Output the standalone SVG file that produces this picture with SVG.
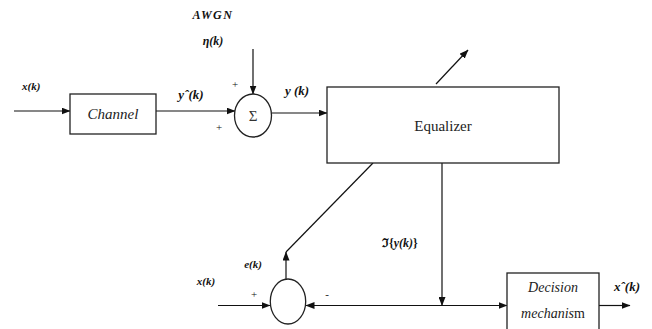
<svg xmlns="http://www.w3.org/2000/svg" width="652" height="329" viewBox="0 0 652 329">
<style>
.box{fill:#fff;stroke:#222;stroke-width:1.3}
.ln{fill:none;stroke:#111;stroke-width:1.2}
text{font-family:"Liberation Serif","Times New Roman",serif;fill:#111}
.lbl{font-weight:bold;font-style:italic;font-size:11px}
.pm{font-size:11px}
.it{font-style:italic;font-size:14px;fill:#222}
.rm{font-size:15px;fill:#222}
</style>
<defs>
<marker id="ah" markerWidth="9" markerHeight="7" refX="8.5" refY="3.5" orient="auto" markerUnits="userSpaceOnUse">
<path d="M0,0 L9,3.5 L0,7 z" fill="#111"/>
</marker>
</defs>
<rect width="652" height="329" fill="#fff"/>
<g id="connectors">
<line class="ln" x1="14" y1="111" x2="70" y2="111" marker-end="url(#ah)"/>
<line class="ln" x1="156" y1="111" x2="235" y2="111" marker-end="url(#ah)"/>
<line class="ln" x1="253" y1="49" x2="253" y2="94" marker-end="url(#ah)"/>
<line class="ln" x1="272" y1="113" x2="327" y2="113" marker-end="url(#ah)"/>
<line class="ln" x1="436" y1="84" x2="468" y2="50" marker-end="url(#ah)"/>
<polyline class="ln" points="373,163 286,252"/>
<line class="ln" x1="286" y1="279" x2="286" y2="252" marker-end="url(#ah)"/>
<line class="ln" x1="218" y1="305.5" x2="270" y2="305.5" marker-end="url(#ah)"/>
<line class="ln" x1="507" y1="305.5" x2="306" y2="305.5" marker-end="url(#ah)"/>
<line class="ln" x1="442" y1="163" x2="442" y2="305.5" marker-end="url(#ah)"/>
<line class="ln" x1="442" y1="305.5" x2="507" y2="305.5" marker-end="url(#ah)"/>
<line class="ln" x1="599" y1="305.5" x2="630" y2="305.5" marker-end="url(#ah)"/>
</g>
<g id="channel">
<rect class="box" x="70" y="94" width="86" height="40"/>
<text class="it" x="113" y="119" text-anchor="middle" style="font-size:15px">Channel</text>
</g>
<g id="sum">
<ellipse class="box" cx="253" cy="115.5" rx="18.5" ry="21.5"/>
<text x="253" y="120.5" text-anchor="middle" style="font-size:15px;fill:#333">Σ</text>
</g>
<g id="equalizer">
<rect class="box" x="327" y="87" width="232" height="76"/>
<text class="rm" x="443" y="131" text-anchor="middle">Equalizer</text>
</g>
<g id="error-sum">
<ellipse class="box" cx="288" cy="301.5" rx="17.7" ry="22.5"/>
</g>
<g id="decision">
<rect class="box" x="507" y="273" width="92" height="62"/>
<text class="it" x="553" y="292" text-anchor="middle">Decision</text>
<text class="it" x="553" y="318" text-anchor="middle">mechanis<tspan style="font-style:normal">m</tspan></text>
</g>
<g id="labels">
<text class="lbl" x="22" y="90">x(k)</text>
<text class="lbl" x="213" y="19" text-anchor="middle" style="font-size:12px;letter-spacing:1.5px">AWGN</text>
<text class="lbl" x="213" y="45" text-anchor="middle" style="font-size:12px">η(k)</text>
<text class="pm" x="235" y="88" text-anchor="middle">+</text>
<text class="pm" x="219" y="131" text-anchor="middle">+</text>
<text class="lbl" x="191" y="99" text-anchor="middle" style="font-size:13px">yˆ(k)</text>
<text class="lbl" x="297" y="95" text-anchor="middle" style="font-size:13px">y (k)</text>
<text class="lbl" x="382" y="247" style="font-size:12px;font-style:normal">ℑ{<tspan style="font-style:italic">y(k)</tspan>}</text>
<text class="lbl" x="253" y="268" text-anchor="middle">e(k)</text>
<text class="lbl" x="206" y="285" text-anchor="middle">x(k)</text>
<text class="pm" x="254" y="298" text-anchor="middle">+</text>
<text class="pm" x="327" y="298" text-anchor="middle">-</text>
<text class="lbl" x="627" y="291" text-anchor="middle" style="font-size:13px">xˆ(k)</text>
</g>
</svg>
